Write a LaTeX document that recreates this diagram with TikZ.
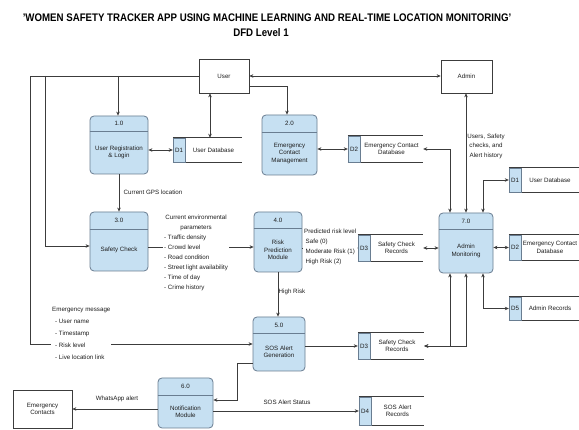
\documentclass[tikz,border=0pt]{standalone}
\usepackage{fontspec}
\setmainfont{Liberation Sans}
\usetikzlibrary{arrows.meta}
\definecolor{procfill}{RGB}{198,224,242}
\definecolor{procdraw}{RGB}{105,125,145}
\definecolor{linec}{RGB}{60,60,60}
\definecolor{txtc}{RGB}{30,30,30}
\newcommand\smallft{\fontsize{6.2}{7.4}\selectfont}
% process: name, x1, y1, x2, y2, header line y, number, text
\newcommand\mkproc[8]{%
  \node[proc, minimum width={#4-#2}, minimum height={#5-#3}] (#1) at ({(#2+#4)/2},{(#3+#5)/2}) {};
  \draw[procdraw, line width=0.8pt] (#1.west |- 0,#6) -- (#1.east |- 0,#6);
  \node[ptext] (#1n) at ({(#2+#4)/2},{(#3+#6)/2}) {#7};
  \node[ptext] (#1t) at ({(#2+#4)/2},{(#6+#5)/2}) {#8};
}
% data store: name, x1, y1, x2, y2, id, text
\newcommand\mkstore[7]{%
  \node[inner sep=0pt, minimum width={#4-#2}, minimum height={#5-#3}] (#1) at ({(#2+#4)/2},{(#3+#5)/2}) {};
  \draw[storeline] (#1.north west) -- (#1.north east) (#1.south west) -- (#1.south east);
  \node[idbox, minimum width=12, minimum height={#5-#3}] (#1id) at ({#2+6},{(#3+#5)/2}) {#6};
  \node[ptext] (#1t) at ({(#2+12+#4)/2},{(#3+#5)/2}) {#7};
}
\begin{document}
\begin{tikzpicture}[x=1pt,y=-1pt,
  proc/.style={draw=procdraw, fill=procfill, rounded corners=4pt, line width=0.8pt, inner sep=0pt},
  ext/.style={draw=linec, fill=white, line width=0.7pt, inner sep=0pt, font=\smallft, text=txtc, align=center},
  ptext/.style={font=\smallft, text=txtc, align=center, inner sep=0pt},
  ltext/.style={font=\smallft, text=txtc, inner sep=1pt},
  storeline/.style={draw=linec, line width=0.7pt},
  idbox/.style={draw=procdraw, fill=procfill, line width=0.6pt, inner sep=0pt, font=\smallft, text=txtc},
  flow/.style={draw=linec, line width=0.6pt, -{Stealth[length=4pt,width=3.5pt]}},
  flow2/.style={draw=linec, line width=0.6pt, {Stealth[length=4pt,width=3.5pt]}-{Stealth[length=4pt,width=3.5pt]}}]
\useasboundingbox (0,0) rectangle (579,430);
\fill[white] (0,0) rectangle (579,430);

% title
\node[font=\bfseries\fontsize{11}{13}\selectfont, text=black, inner sep=0pt] (title) at (267,18)
  {\scalebox{0.88}[1]{'WOMEN SAFETY TRACKER APP USING MACHINE LEARNING AND REAL-TIME LOCATION MONITORING'}};
\node[font=\bfseries\fontsize{11}{13}\selectfont, text=black, inner sep=0pt] (subtitle) at (261,33)
  {\scalebox{0.88}[1]{DFD Level 1}};

% external entities
\node[ext, minimum width=50, minimum height=34] (user) at (224,76) {User};
\node[ext, minimum width=51, minimum height=33] (admin) at (466.5,76.5) {Admin};
\node[ext, minimum width=59, minimum height=38] (ec) at (42.5,409) {Emergency\\Contacts};

% processes
\mkproc{p1}{90}{116}{148}{174}{131}{1.0}{User Registration\\\& Login}
\mkproc{p2}{262}{115}{317}{175}{132}{2.0}{Emergency\\Contact\\Management}
\mkproc{p3}{90}{212}{148}{271}{229}{3.0}{Safety Check}
\mkproc{p4}{254}{212}{302}{272}{228}{4.0}{Risk\\Prediction\\Module}
\mkproc{p5}{253}{317}{305}{371}{333}{5.0}{SOS Alert\\Generation}
\mkproc{p6}{158}{378}{213}{428}{395}{6.0}{Notification\\Module}
\mkproc{p7}{439}{213}{493}{273}{229}{7.0}{Admin\\Monitoring}

% data stores
\mkstore{d1}{173}{138}{242}{162}{D1}{User Database}
\mkstore{d2}{348}{136}{423}{162}{D2}{Emergency Contact\\Database}
\mkstore{d3}{358}{235}{423}{261}{D3}{Safety Check\\Records}
\mkstore{d3b}{358}{333}{424}{359}{D3}{Safety Check\\Records}
\mkstore{d4}{359}{397}{424}{425}{D4}{SOS Alert\\Records}
\mkstore{d1r}{509}{168}{579}{192}{D1}{User Database}
\mkstore{d2r}{509}{235}{579}{260}{D2}{Emergency Contact\\Database}
\mkstore{d5}{509}{297}{579}{320}{D5}{Admin Records}

% flows
\draw[flow] (user.west) -| (30,344) -- (p5.west);
\draw[flow] (45,76) |- (p3.west |- 45,246);
\draw[flow] (118,76) -- (p1.north -| 118,0);
\draw[flow2] (user.south -| 210,0) -- (d1.north -| 210,0);
\draw[flow2] (p1.east |- d1.west) -- (d1.west);
\draw[flow2] (user.east) -- (admin.west |- user.east);
\draw[flow] (user.east |- 0,86) -| (p2.north -| 287,0);
\draw[flow2] (p2.east |- d2.west) -- (d2.west);
\draw[flow2] (d2.east) -| (p7.north -| 450,0);
\draw[flow2] (p7.north -| 466,0) -- (admin.south -| 466,0);
\draw[flow2] (p7.north -| 483,0) |- (d1r.west);
\draw[flow2] (p7.east |- d2r.west) -- (d2r.west);
\draw[flow2] (p7.south -| 483,0) |- (d5.west);
\draw[flow2] (p7.south -| 450,0) |- (d3b.east);
\draw[flow2] (p7.south -| 466,0) |- (d3b.east);
\draw[flow2] (d3.east) -- (p7.west |- d3.east);
\draw[flow] (p1.south) -- (p3.north);
\draw[flow] (p3.east |- 0,247) -- (p4.west |- 0,247);
\draw[flow] (p4.east |- d3.west) -- (d3.west);
\draw[flow] (p4.south) -- (p5.north -| p4.south);
\draw[flow] (p5.east |- d3b.west) -- (d3b.west);
\draw[flow] (p5.west |- 0,363) -- (237,363) |- (p6.east |- 0,400);
\draw[flow] (p6.east |- d4.west) -- (d4.west);
\draw[flow] (p6.west |- 0,409) -- (ec.east |- 0,409);

% labels
\node[ltext] (lgps) at (153,192) {Current GPS location};
\node[ltext, fill=white, anchor=west, font=\fontsize{6.2}{9.9}\selectfont] (lenv) at (163,252.5)
  {\begin{tabular}{@{}l@{}}\multicolumn{1}{@{}c@{}}{Current environmental}\\\multicolumn{1}{@{}c@{}}{parameters}\\- Traffic density\\- Crowd level\\- Road condition\\- Street light availability\\- Time of day\\- Crime history\end{tabular}};
\node[ltext, fill=white, anchor=west, font=\fontsize{6.2}{10.2}\selectfont] (lpred) at (303,246.5)
  {\begin{tabular}{@{}l@{}}Predicted risk level\\\hspace{1.5pt}Safe (0)\\\hspace{1.5pt}Moderate Risk (1)\\\hspace{1.5pt}High Risk (2)\end{tabular}};
\node[ltext] (lhigh) at (292,292) {High Risk};
\node[ltext, align=center, font=\fontsize{6.2}{9.5}\selectfont] (lusers) at (486,146) {Users, Safety\\checks, and\\Alert history};
\node[ltext, fill=white, anchor=west, font=\fontsize{6.2}{12}\selectfont] (lemerg) at (51,333)
  {\begin{tabular}{@{}l@{}}Emergency message\\\hspace{3pt}- User name\\\hspace{3pt}- Timestamp\\\hspace{3pt}- Risk level\\\hspace{3pt}- Live location link\end{tabular}};
\node[ltext] (lwa) at (117,399) {WhatsApp alert};
\node[ltext] (lsos) at (287,402) {SOS Alert Status};
\end{tikzpicture}
\end{document}
